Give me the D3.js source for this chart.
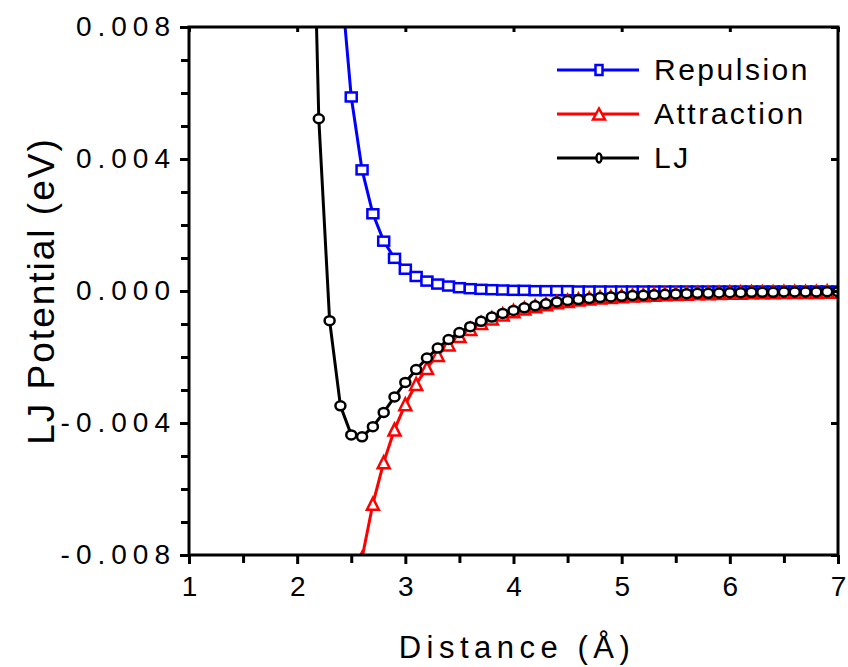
<!DOCTYPE html>
<html>
<head>
<meta charset="utf-8">
<script src="https://cdn.jsdelivr.net/npm/d3@7"></script>
<style>
body { margin: 0; background: #fff; }
text { font-family: "Liberation Sans", Arial, sans-serif; fill: #000; }
</style>
</head>
<body>
<div id="chart"></div>
<script>
// distance in Angstrom, potentials in eV
const distance = [2.1, 2.2, 2.3, 2.4, 2.5, 2.6, 2.7, 2.8, 2.9, 3.0,
	3.1, 3.2, 3.3, 3.4, 3.5, 3.6, 3.7, 3.8, 3.9, 4.0,
	4.1, 4.2, 4.3, 4.4, 4.5, 4.6, 4.7, 4.8, 4.9, 5.0,
	5.1, 5.2, 5.3, 5.4, 5.5, 5.6, 5.7, 5.8, 5.9, 6.0,
	6.1, 6.2, 6.3, 6.4, 6.5, 6.6, 6.7, 6.8, 6.9, 7.0];
const repulsion = [0.04765, 0.02727, 0.01599, 0.00960, 0.00588, 0.00367, 0.00234, 0.00151, 0.00099, 0.00066,
	0.00044, 0.00030, 0.00021, 0.00015, 0.00010, 0.00007, 0.00005, 0.00004, 0.00003, 0.00002,
	0.00002, 0.00001, 0.00001, 0.00001, 0.00001, 0, 0, 0, 0, 0,
	0, 0, 0, 0, 0, 0, 0, 0, 0, 0,
	0, 0, 0, 0, 0, 0, 0, 0, 0, 0];
const attraction = [-0.02915, -0.02205, -0.01689, -0.01308, -0.01024, -0.00809, -0.00645, -0.00519, -0.00420, -0.00343,
	-0.00282, -0.00233, -0.00194, -0.00162, -0.00136, -0.00115, -0.00097, -0.00083, -0.00071, -0.00061,
	-0.00053, -0.00046, -0.00040, -0.00034, -0.00030, -0.00026, -0.00023, -0.00020, -0.00018, -0.00016,
	-0.00014, -0.00013, -0.00011, -0.00010, -0.00009, -0.00008, -0.00007, -0.00007, -0.00006, -0.00005,
	-0.00005, -0.00004, -0.00004, -0.00004, -0.00003, -0.00003, -0.00003, -0.00003, -0.00002, -0.00002];
const lj = [0.01850, 0.00522, -0.00090, -0.00348, -0.00436, -0.00442, -0.00411, -0.00368, -0.00321, -0.00277,
	-0.00238, -0.00203, -0.00173, -0.00147, -0.00126, -0.00108, -0.00092, -0.00079, -0.00068, -0.00059,
	-0.00051, -0.00045, -0.00039, -0.00033, -0.00029, -0.00026, -0.00023, -0.00020, -0.00018, -0.00016,
	-0.00014, -0.00013, -0.00011, -0.00010, -0.00009, -0.00008, -0.00007, -0.00007, -0.00006, -0.00005,
	-0.00005, -0.00004, -0.00004, -0.00004, -0.00003, -0.00003, -0.00003, -0.00003, -0.00002, -0.00002];
const seriesNames = ["Repulsion", "Attraction", "LJ"];
const seriesColors = ["#0000ff", "#ff0000", "#000000"];
const xTicks = [1, 2, 3, 4, 5, 6, 7];
const xMinorTicks = [1.5, 2.5, 3.5, 4.5, 5.5, 6.5];
const yTicks = [-0.008, -0.004, 0, 0.004, 0.008];
const yTickLabels = ["-0.008", "-0.004", "0.000", "0.004", "0.008"];
const yMinorTicks = [-0.007, -0.006, -0.005, -0.003, -0.002, -0.001, 0.001, 0.002, 0.003, 0.005, 0.006, 0.007];

const width = 848, height = 667;
const margin = {left: 189, right: 10, top: 27, bottom: 112};

const svg = d3.select("#chart").append("svg")
	.attr("width", width)
	.attr("height", height);

const x = d3.scaleLinear().domain([1, 7]).range([margin.left, width - margin.right]);
const y = d3.scaleLinear().domain([-0.008, 0.008]).range([height - margin.bottom, margin.top]);

svg.append("clipPath").attr("id", "clip")
	.append("rect")
	.attr("x", x(1)).attr("y", y(0.008))
	.attr("width", x(7) - x(1)).attr("height", y(-0.008) - y(0.008));

const allSeries = [repulsion, attraction, lj].map((vals, i) => ({
	name: seriesNames[i],
	color: seriesColors[i],
	points: distance.map((d, j) => ({x: d, y: vals[j]}))
}));

// marker shapes
function drawMarker(g, kind, color, size) {
	if (kind == 0) {
		g.append("rect")
			.attr("x", -size.w / 2).attr("y", -size.h / 2)
			.attr("width", size.w).attr("height", size.h)
			.attr("fill", "#fff").attr("stroke", color).attr("stroke-width", 2.5);
	} else if (kind == 1) {
		g.append("path")
			.attr("d", `M0,${-size.h / 2}L${size.w / 2},${size.h / 2}L${-size.w / 2},${size.h / 2}Z`)
			.attr("fill", "#fff").attr("stroke", color).attr("stroke-width", 2.5);
	} else {
		g.append("ellipse")
			.attr("rx", size.w / 2).attr("ry", size.h / 2)
			.attr("fill", "#fff").attr("stroke", color).attr("stroke-width", 2.5);
	}
}

const plot = svg.append("g").attr("clip-path", "url(#clip)");
const line = d3.line().x(d => x(d.x)).y(d => y(d.y));

allSeries.forEach((s, i) => {
	const g = plot.append("g");
	g.append("path")
		.datum(s.points)
		.attr("d", line)
		.attr("fill", "none")
		.attr("stroke", s.color)
		.attr("stroke-width", 3);
	g.selectAll("g.m")
		.data(s.points)
		.enter()
		.append("g")
		.attr("class", "m")
		.attr("transform", d => `translate(${x(d.x)},${y(d.y)})`)
		.each(function() {
			const sz = i == 0 ? {w: 11, h: 9} : (i == 1 ? {w: 12, h: 12} : {w: 10, h: 9});
			drawMarker(d3.select(this), i, s.color, sz);
		});
});

// frame
svg.append("rect")
	.attr("x", x(1)).attr("y", y(0.008))
	.attr("width", x(7) - x(1)).attr("height", y(-0.008) - y(0.008))
	.attr("fill", "none").attr("stroke", "#000").attr("stroke-width", 3);

// bottom axis
const xAxis = svg.append("g").attr("transform", `translate(0,${y(-0.008)})`);
xAxis.call(d3.axisBottom(x).tickValues(xTicks).tickSize(9).tickFormat(d3.format("d")));
xAxis.append("g").call(d3.axisBottom(x).tickValues(xMinorTicks).tickSize(8).tickFormat(""));
xAxis.selectAll(".domain").remove();
xAxis.selectAll("line").attr("stroke", "#000").attr("stroke-width", 3);
xAxis.selectAll("text")
	.attr("dy", "1.05em")
	.style("font-size", "28px")
	.style("font-family", '"Liberation Sans", Arial, sans-serif');

// left axis
const yAxis = svg.append("g").attr("transform", `translate(${x(1)},0)`);
yAxis.call(d3.axisLeft(y).tickValues(yTicks).tickSize(9).tickFormat((d, i) => yTickLabels[i]));
yAxis.append("g").call(d3.axisLeft(y).tickValues(yMinorTicks).tickSize(8).tickFormat(""));
yAxis.selectAll(".domain").remove();
yAxis.selectAll("line").attr("stroke", "#000").attr("stroke-width", 3);
yAxis.selectAll("text")
	.attr("x", -13)
	.style("font-size", "28px")
	.style("letter-spacing", "6px")
	.style("font-family", '"Liberation Sans", Arial, sans-serif');

// top and right inner ticks
const topAxis = svg.append("g").attr("transform", `translate(0,${y(0.008)})`);
topAxis.call(d3.axisBottom(x).tickValues(xTicks).tickSize(5).tickFormat(""));
topAxis.selectAll(".domain").remove();
topAxis.selectAll("line").attr("stroke", "#000").attr("stroke-width", 3);
const rightAxis = svg.append("g").attr("transform", `translate(${x(7)},0)`);
rightAxis.call(d3.axisLeft(y).tickValues(yTicks).tickSize(7).tickFormat(""));
rightAxis.selectAll(".domain").remove();
rightAxis.selectAll("line").attr("stroke", "#000").attr("stroke-width", 3);

// axis titles
svg.append("text")
	.attr("x", 517).attr("y", 658)
	.attr("text-anchor", "middle")
	.style("font-size", "31px")
	.style("letter-spacing", "5.5px")
	.text("Distance (Å)");
svg.append("text")
	.attr("transform", `translate(54,${(y(0.008) + y(-0.008)) / 2}) rotate(-90)`)
	.attr("text-anchor", "middle")
	.style("font-size", "37px")
	.style("letter-spacing", "2px")
	.text("LJ Potential (eV)");

// legend
const legend = svg.append("g");
allSeries.forEach((s, i) => {
	const ly = 70 + i * 44;
	const row = legend.append("g").attr("transform", `translate(557,${ly})`);
	row.append("line")
		.attr("x1", 0).attr("x2", 82)
		.attr("stroke", s.color).attr("stroke-width", 3);
	const mk = row.append("g").attr("transform", "translate(42,0)");
	const sz = i == 0 ? {w: 7, h: 10} : (i == 1 ? {w: 12, h: 11} : {w: 5, h: 9});
	drawMarker(mk, i, s.color, sz);
	row.append("text")
		.attr("x", 97).attr("y", 10)
		.style("font-size", "30px")
		.style("letter-spacing", "2.5px")
		.text(s.name);
});
</script>
</body>
</html>
